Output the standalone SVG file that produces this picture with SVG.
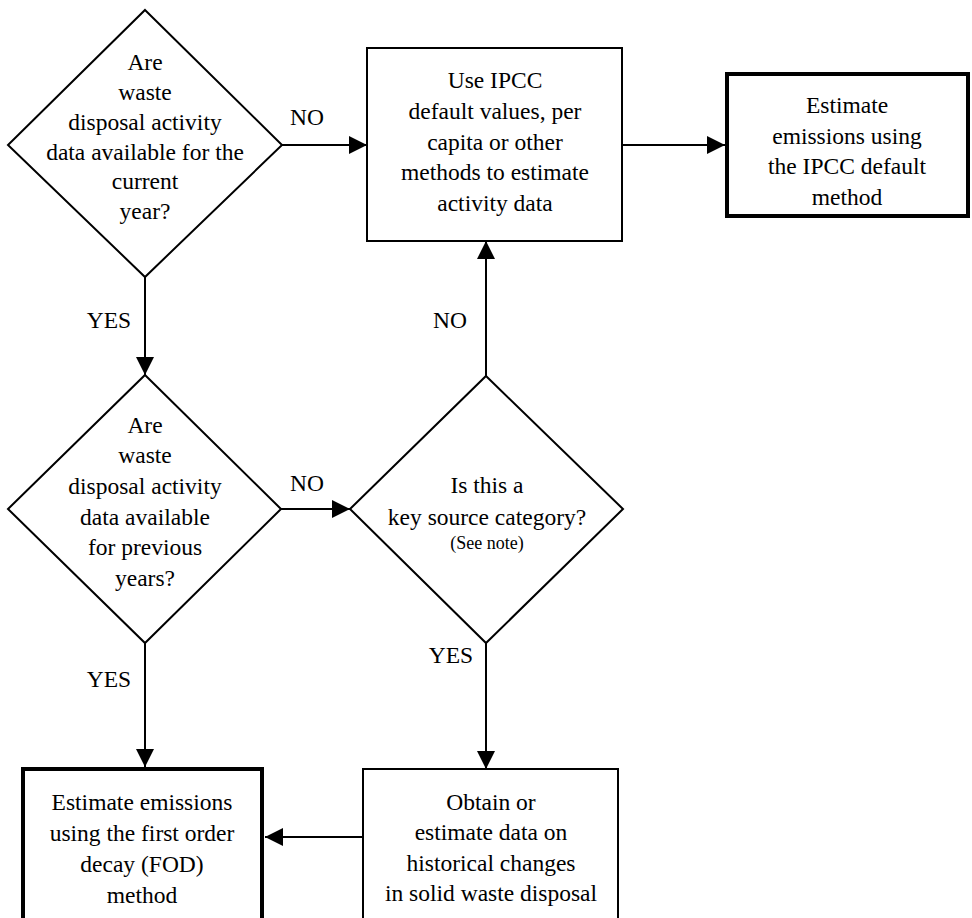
<svg xmlns="http://www.w3.org/2000/svg" width="972" height="918" viewBox="0 0 972 918" font-family="'Liberation Serif', 'Times New Roman', Times, serif">
<style>
text{font-family:'Liberation Serif','Times New Roman',Times,serif;font-size:23.5px;fill:#000;text-anchor:middle}
text.small{font-size:18px}
.shape{fill:#fff;stroke:#000;stroke-width:2}
.thick{fill:#fff;stroke:#000;stroke-width:4}
.conn{fill:none;stroke:#000;stroke-width:2;marker-end:url(#arr)}
</style>
<defs>
<marker id="arr" viewBox="0 0 18 18" refX="18" refY="9" markerWidth="18" markerHeight="18" markerUnits="userSpaceOnUse" orient="auto">
<path d="M0,0 L18,9 L0,18 z" fill="#000"/>
</marker>
</defs>
<rect width="972" height="918" fill="#fff"/>
<g id="connectors">
<line class="conn" x1="282" y1="145" x2="367" y2="145"/>
<line class="conn" x1="622" y1="145" x2="725" y2="145"/>
<line class="conn" x1="145" y1="277" x2="145" y2="375"/>
<line class="conn" x1="281" y1="509" x2="350" y2="509"/>
<line class="conn" x1="486" y1="376" x2="486" y2="241"/>
<line class="conn" x1="145" y1="643" x2="145" y2="767"/>
<line class="conn" x1="486" y1="643" x2="486" y2="769"/>
<line class="conn" x1="363" y1="837" x2="265" y2="837"/>
<text x="307" y="125">NO</text>
<text x="109" y="328">YES</text>
<text x="307" y="491">NO</text>
<text x="450" y="328">NO</text>
<text x="451" y="663">YES</text>
<text x="109" y="687">YES</text>
</g>
<g id="d1">
<polygon class="shape" points="145,10 282,145 145,277 8,145"/>
<text x="145" y="70">Are</text>
<text x="145" y="100">waste</text>
<text x="145" y="130">disposal activity</text>
<text x="145" y="160">data available for the</text>
<text x="145" y="189">current</text>
<text x="145" y="219">year?</text>
</g>
<g id="box2">
<rect class="shape" x="367" y="48" width="255" height="193"/>
<text x="495" y="88">Use IPCC</text>
<text x="495" y="119">default values, per</text>
<text x="495" y="150">capita or other</text>
<text x="495" y="180">methods to estimate</text>
<text x="495" y="211">activity data</text>
</g>
<g id="box3">
<rect class="thick" x="727" y="74" width="241" height="142"/>
<text x="847" y="113">Estimate</text>
<text x="847" y="144">emissions using</text>
<text x="847" y="174">the IPCC default</text>
<text x="847" y="205">method</text>
</g>
<g id="d2">
<polygon class="shape" points="145,375 281,509 145,643 8,509"/>
<text x="145" y="433">Are</text>
<text x="145" y="463">waste</text>
<text x="145" y="494">disposal activity</text>
<text x="145" y="525">data available</text>
<text x="145" y="555">for previous</text>
<text x="145" y="586">years?</text>
</g>
<g id="d3">
<polygon class="shape" points="486,376 623,509 486,643 350,509"/>
<text x="487" y="493">Is this a</text>
<text x="487" y="525">key source category?</text>
<text class="small" x="487" y="549">(See note)</text>
</g>
<g id="box4">
<rect class="thick" x="23" y="769" width="239" height="160"/>
<text x="142" y="810">Estimate emissions</text>
<text x="142" y="841">using the first order</text>
<text x="142" y="872">decay (FOD)</text>
<text x="142" y="903">method</text>
</g>
<g id="box5">
<rect class="shape" x="363" y="769" width="255" height="160"/>
<text x="491" y="810">Obtain or</text>
<text x="491" y="840">estimate data on</text>
<text x="491" y="871">historical changes</text>
<text x="491" y="901">in solid waste disposal</text>
</g>
</svg>
